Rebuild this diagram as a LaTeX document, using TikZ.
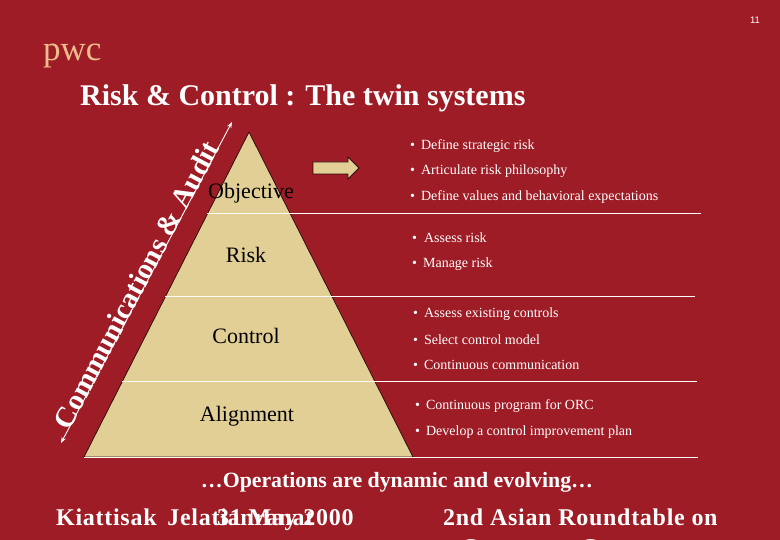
\documentclass[tikz,border=0pt]{standalone}
\usepackage{fontspec}
\usetikzlibrary{arrows.meta}
\setmainfont{Liberation Serif}
\newfontfamily\pgfont{Liberation Sans}
\newfontfamily\footfont[LetterSpace=3]{Liberation Serif}
\definecolor{bgred}{HTML}{9E1C26}
\definecolor{sand}{HTML}{E2CF96}
\definecolor{peach}{HTML}{EDBE8C}
\definecolor{edge}{HTML}{2E0C0C}
\tikzset{
 x=1pt,y=-1pt,
 pyr/.style={fill=sand,draw=edge,line width=0.8pt,line join=round},
 rule/.style={draw=white!92!sand,line width=0.9pt},
 lev/.style={font=\fontsize{22}{24}\selectfont,text=black,inner sep=0pt},
 bul/.style={font=\fontsize{14}{16}\selectfont,text=white,inner sep=0pt,anchor=west},
 ttl/.style={font=\bfseries\fontsize{30}{32}\selectfont,text=white,inner sep=0pt,anchor=base west},
 foot/.style={font=\footfont\bfseries\fontsize{24}{28}\selectfont,text=white,inner sep=0pt,anchor=base west},
}
\begin{document}
\begin{tikzpicture}
\useasboundingbox (0,0) rectangle (780,540);
\clip (0,0) rectangle (780,540);
\fill[bgred] (0,0) rectangle (780,540);
\node[font=\pgfont\fontsize{9.5}{11}\selectfont,text=white,inner sep=0pt] (pg) at (755,20) {11};
\node[font=\fontsize{35}{38}\selectfont,text=peach,inner sep=0pt,anchor=base west] (pwc) at (43,61) {pwc};
\node[ttl] (title) at (80,106) {Risk \& Control : The twin systems};
\coordinate (apex) at (249,132);
\coordinate (bl) at (84,457);
\coordinate (br) at (413,457);
\draw[pyr] (apex) -- (bl) -- (br) -- cycle;
\coordinate (r1a) at (207,213); \coordinate (r1b) at (701,213);
\coordinate (r2a) at (165,296); \coordinate (r2b) at (695,296);
\coordinate (r3a) at (122,381); \coordinate (r3b) at (697,381);
\coordinate (r4a) at (84,457);  \coordinate (r4b) at (698,457);
\draw[rule] (r1a)--(r1b); \draw[rule] (r2a)--(r2b); \draw[rule] (r3a)--(r3b); \draw[rule] (r4a)--(r4b);
\node[lev] (obj) at (251,193) {Objective};
\node[lev] (risk) at (246,255) {Risk};
\node[lev] (ctrl) at (246,336) {Control};
\node[lev] (align) at (247,416) {Alignment};
\coordinate (c1) at (61,443); \coordinate (c2) at (232,122);
\draw[white,line width=0.9pt,{Stealth[length=6pt]}-{Stealth[length=6pt]}] (c1)--(c2);
\node[font=\bfseries\fontsize{29}{32}\selectfont,text=white,inner sep=0pt,rotate=62] (comm) at (136,285) {Communications \& Audit};
\draw[fill=sand,draw=edge,line width=0.8pt,line join=miter] (313,162)--(348,162)--(348,157)--(359,168)--(348,179)--(348,174)--(313,174)--cycle;
\node[bul] (a1) at (410,146) {\textbullet\hspace{6pt}Define strategic risk};
\node[bul] (a2) at (410,171) {\textbullet\hspace{6pt}Articulate risk philosophy};
\node[bul] (a3) at (410,197) {\textbullet\hspace{6pt}Define values and behavioral expectations};
\node[bul] (b1) at (412,238) {\textbullet\hspace{7pt}Assess risk};
\node[bul] (b2) at (412,264) {\textbullet\hspace{6pt}Manage risk};
\node[bul] (c1t) at (413,314) {\textbullet\hspace{6pt}Assess existing controls};
\node[bul] (c2t) at (413,340) {\textbullet\hspace{6pt}Select control model};
\node[bul] (c3t) at (413,365) {\textbullet\hspace{6pt}Continuous communication};
\node[bul] (d1) at (415,406) {\textbullet\hspace{6pt}Continuous program for ORC};
\node[bul] (d2) at (415,432) {\textbullet\hspace{6pt}Develop a control improvement plan};
\node[font=\bfseries\fontsize{21.8}{24}\selectfont,text=white,inner sep=0pt] (ops) at (397,482) {…Operations are dynamic and evolving…};
\node[foot] (k) at (56,525) {Kiattisak\hspace{4pt} Jelatianranat};
\node[foot] (d) at (217,525) {31 May 2000};
\node[foot] (r) at (443,525) {2nd Asian Roundtable on};
\node[foot] (r2) at (461,555) {Corporate Governance};
\end{tikzpicture}
\end{document}
